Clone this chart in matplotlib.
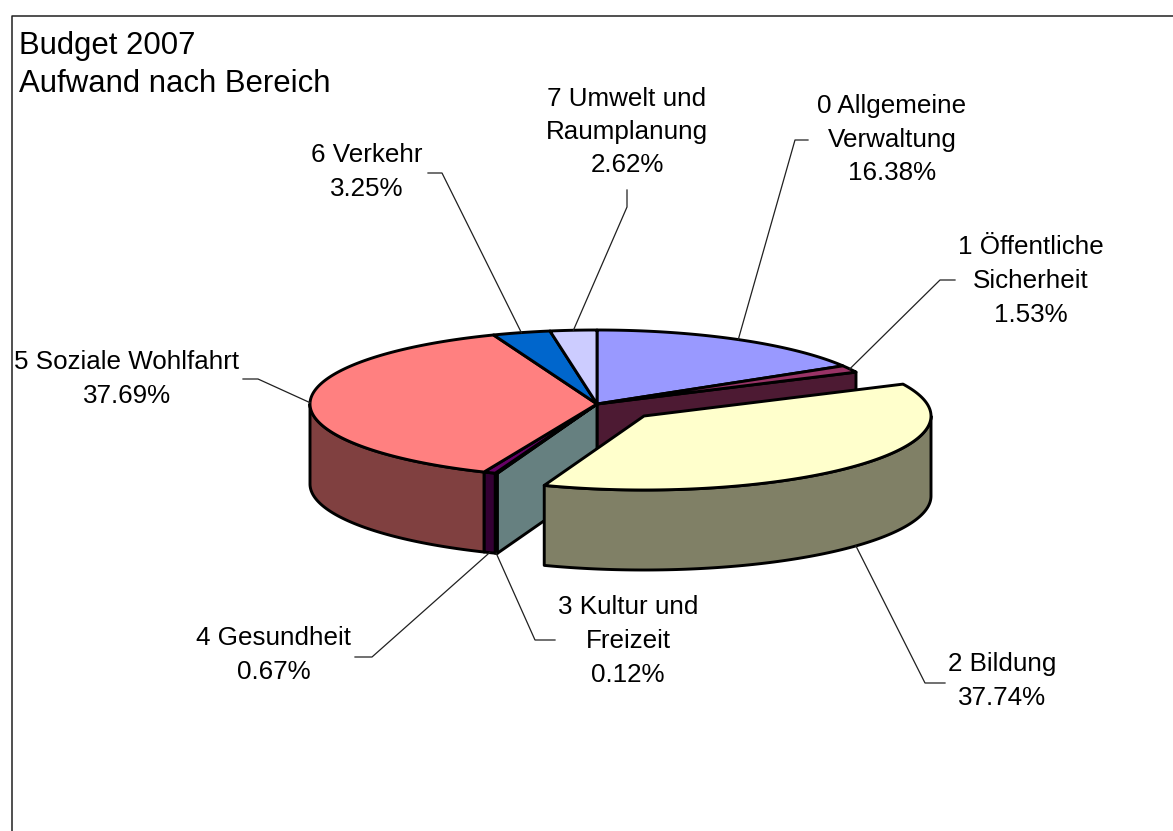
import matplotlib
matplotlib.use('Agg')
import matplotlib.pyplot as plt
import numpy as np
from matplotlib.colors import to_rgb

# Chart data
names = ["0 Allgemeine\nVerwaltung", "1 Öffentliche\nSicherheit", "2 Bildung",
         "3 Kultur und\nFreizeit", "4 Gesundheit", "5 Soziale Wohlfahrt",
         "6 Verkehr", "7 Umwelt und\nRaumplanung"]
shares = [16.38, 1.53, 37.74, 0.12, 0.67, 37.69, 3.25, 2.62]
title = "Budget 2007\nAufwand nach Bereich"

# Styling and layout (pixel space of the 1173x831 image)
colors = ["#9999FF", "#993366", "#FFFFCC", "#CCFFFF", "#660066", "#FF8080", "#0066CC", "#CCCCFF"]
label_pos = [(892, 140), (1031, 281), (1002, 681), (628, 641), (274, 655), (127, 379), (367, 172), (627, 132)]
elbows = [[(795, 140), (808, 140)], [(940, 280), (955, 280)], [(925, 683), (945, 683)],
          [(535, 640), (555, 640)], [(372, 657), (355, 657)], [(258, 379), (243, 379)],
          [(442, 173), (428, 173)], [(627, 207), (627, 190)]]
CX, CY, RX, RY, DEPTH = 597, 404, 287, 74, 80
EXPLODED = 2
OFFSET = (47, 12)
EDGE = 2.1

plt.rcParams['font.family'] = ['Liberation Sans', 'DejaVu Sans']


def rim(theta, center):
    # theta in degrees, clockwise from 12 o'clock
    t = np.radians(theta)
    return center[0] + RX * np.sin(t), center[1] - RY * np.cos(t)


def shade(color):
    return tuple(c * 0.5 for c in to_rgb(color))


def outer_wall(ax, start, end, center, color):
    # only the part of the rim that faces the viewer
    a, b = max(start, 90), min(end, 270)
    if a >= b:
        return
    x, y = rim(np.linspace(a, b, 120), center)
    xs = np.concatenate([x, x[::-1]])
    ys = np.concatenate([y, y[::-1] + DEPTH])
    ax.fill(xs, ys, facecolor=shade(color), edgecolor='black', lw=EDGE, joinstyle='round')


def radial_wall(ax, theta, center, color):
    x, y = rim(theta, center)
    ax.fill([center[0], x, x, center[0]], [center[1], y, y + DEPTH, center[1] + DEPTH],
            facecolor=shade(color), edgecolor='black', lw=EDGE, joinstyle='round')


def top_face(ax, start, end, center, color):
    x, y = rim(np.linspace(start, end, max(int(end - start) * 3, 4)), center)
    ax.fill(np.r_[center[0], x], np.r_[center[1], y], facecolor=color, edgecolor='black',
            lw=EDGE, joinstyle='round')


fig = plt.figure(figsize=(11.73, 8.31), dpi=100)
ax = fig.add_axes([0, 0, 1, 1])
ax.set_xlim(0, 1173)
ax.set_ylim(831, 0)
ax.axis('off')

# chart frame runs off the right and bottom of the picture
ax.plot([12, 12, 1173], [831, 16, 16], color='#202020', lw=1.1)

edges = np.r_[0, np.cumsum(shares)] / np.sum(shares) * 360
centre = (CX, CY)
moved = (CX + OFFSET[0], CY + OFFSET[1])

# walls of the gap left by the pulled out slice
radial_wall(ax, edges[EXPLODED], centre, colors[EXPLODED - 1])
radial_wall(ax, edges[EXPLODED + 1], centre, colors[EXPLODED + 1])

for i in range(len(shares)):
    if i != EXPLODED:
        outer_wall(ax, edges[i], edges[i + 1], centre, colors[i])
for i in range(len(shares)):
    if i != EXPLODED:
        top_face(ax, edges[i], edges[i + 1], centre, colors[i])

outer_wall(ax, edges[EXPLODED], edges[EXPLODED + 1], moved, colors[EXPLODED])
top_face(ax, edges[EXPLODED], edges[EXPLODED + 1], moved, colors[EXPLODED])

# leader lines and labels
for i, (name, share) in enumerate(zip(names, shares)):
    mid = (edges[i] + edges[i + 1]) / 2
    c = moved if i == EXPLODED else centre
    x, y = rim(mid, c)
    if 90 < mid < 270:
        y += DEPTH
    (x1, y1), (x2, y2) = elbows[i]
    ax.plot([x, x1, x2], [y, y1, y2], color='#202020', lw=0.9, zorder=1.5)
    ax.text(label_pos[i][0], label_pos[i][1], f"{name}\n{share:.2f}%", ha='center', va='center',
            fontsize=18.7, linespacing=1.5, color='black')

ax.text(19, 65, title, ha='left', va='center', fontsize=22.4, linespacing=1.37, color='black')

plt.savefig('out.png', dpi=100)
plt.close()
